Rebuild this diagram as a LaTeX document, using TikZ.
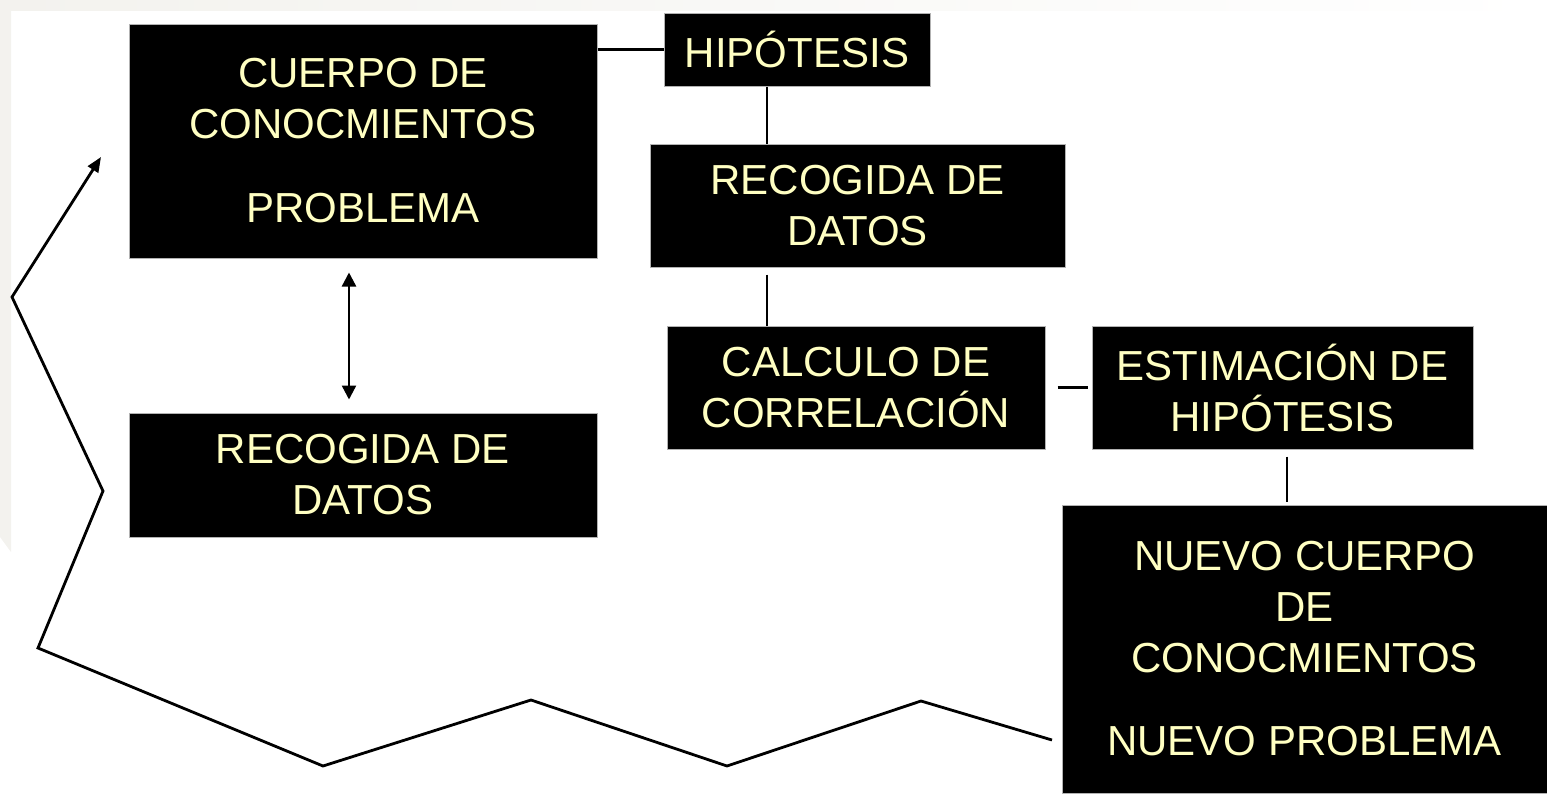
\documentclass[tikz,border=0pt]{standalone}
\usepackage{fontspec}
\setmainfont{Liberation Sans}
\usepackage{xcolor}
\usepackage{tikz}
\usetikzlibrary{arrows.meta}
\definecolor{paleyellow}{RGB}{255,255,194}
\definecolor{slidegray}{RGB}{243,242,238}
\tikzset{
  blk/.style={fill=black, draw=gray!60, line width=1pt, text=paleyellow, align=center, inner sep=0pt,
    font=\fontsize{42}{51}\selectfont},
  link/.style={line width=2.4pt},
  dblarrow/.style={line width=2.4pt, {Triangle[length=14pt,width=14pt]}-{Triangle[length=14pt,width=14pt]}},
  loopline/.style={line width=2.8pt, line join=miter, -{Triangle[length=15pt,width=12pt]}}
}

\begin{document}
\begin{tikzpicture}[x=1pt, y=-1pt]
  \useasboundingbox (0,0) rectangle (1547,793);
  % slide margins
  \shade[left color=slidegray, right color=white] (0,0) rectangle (1547,10);
  \fill[slidegray] (0,0) -- (11,0) -- (11,552) -- (0,537) -- cycle;

  % left column
  \node[blk, minimum width=468pt, minimum height=234pt] (cuerpo) at (363,141)
    {CUERPO DE\\CONOCMIENTOS\\[33pt]PROBLEMA};
  \node[blk, minimum width=468pt, minimum height=124pt] (recog1) at (363,475)
    {RECOGIDA DE\\DATOS};

  % right chain
  \node[blk, minimum width=266pt, minimum height=73pt] (hipo) at (797,49.5) {HIPÓTESIS};
  \node[blk, minimum width=415pt, minimum height=123pt] (recog2) at (857.5,205.5) {RECOGIDA DE\\DATOS};
  \node[blk, minimum width=378pt, minimum height=123pt] (calc) at (856,387.5) {CALCULO DE\\CORRELACIÓN};
  \node[blk, minimum width=381pt, minimum height=123pt] (estim) at (1282.5,387.5) {ESTIMACIÓN DE\\HIPÓTESIS};
  \node[blk, minimum width=485pt, minimum height=288pt] (nuevo) at (1304.5,649)
    {NUEVO CUERPO\\DE\\CONOCMIENTOS\\[32pt]NUEVO PROBLEMA};

  % connectors
  \draw[link] (hipo.west -| cuerpo.east) -- (hipo.west);
  \draw[link] ([xshift=-30pt]hipo.south) -- ([xshift=-30pt]hipo.south |- recog2.north);
  \draw[link, shorten <=7pt] ([xshift=-30pt]hipo.south |- recog2.south) -- ([xshift=-30pt]hipo.south |- calc.north);
  \draw[link, shorten <=12pt, shorten >=4pt] (calc) -- (estim);
  \draw[link, shorten <=7pt, shorten >=3pt] ([xshift=4.5pt]estim.south) -- ([xshift=4.5pt]estim.south |- nuevo.north);
  \draw[dblarrow, shorten <=14pt, shorten >=13pt] ([xshift=-14pt]cuerpo.south) -- ([xshift=-14pt]cuerpo.south |- recog1.north);

  % feedback loop
  \coordinate (back) at (1052,740);
  \coordinate (tip) at (101,157);
  \draw[loopline] (back) -- (921,701) -- (727,766) -- (531,700) -- (323,766)
    -- (38,648) -- (103,491) -- (12,297) -- (tip);
\end{tikzpicture}
\end{document}
